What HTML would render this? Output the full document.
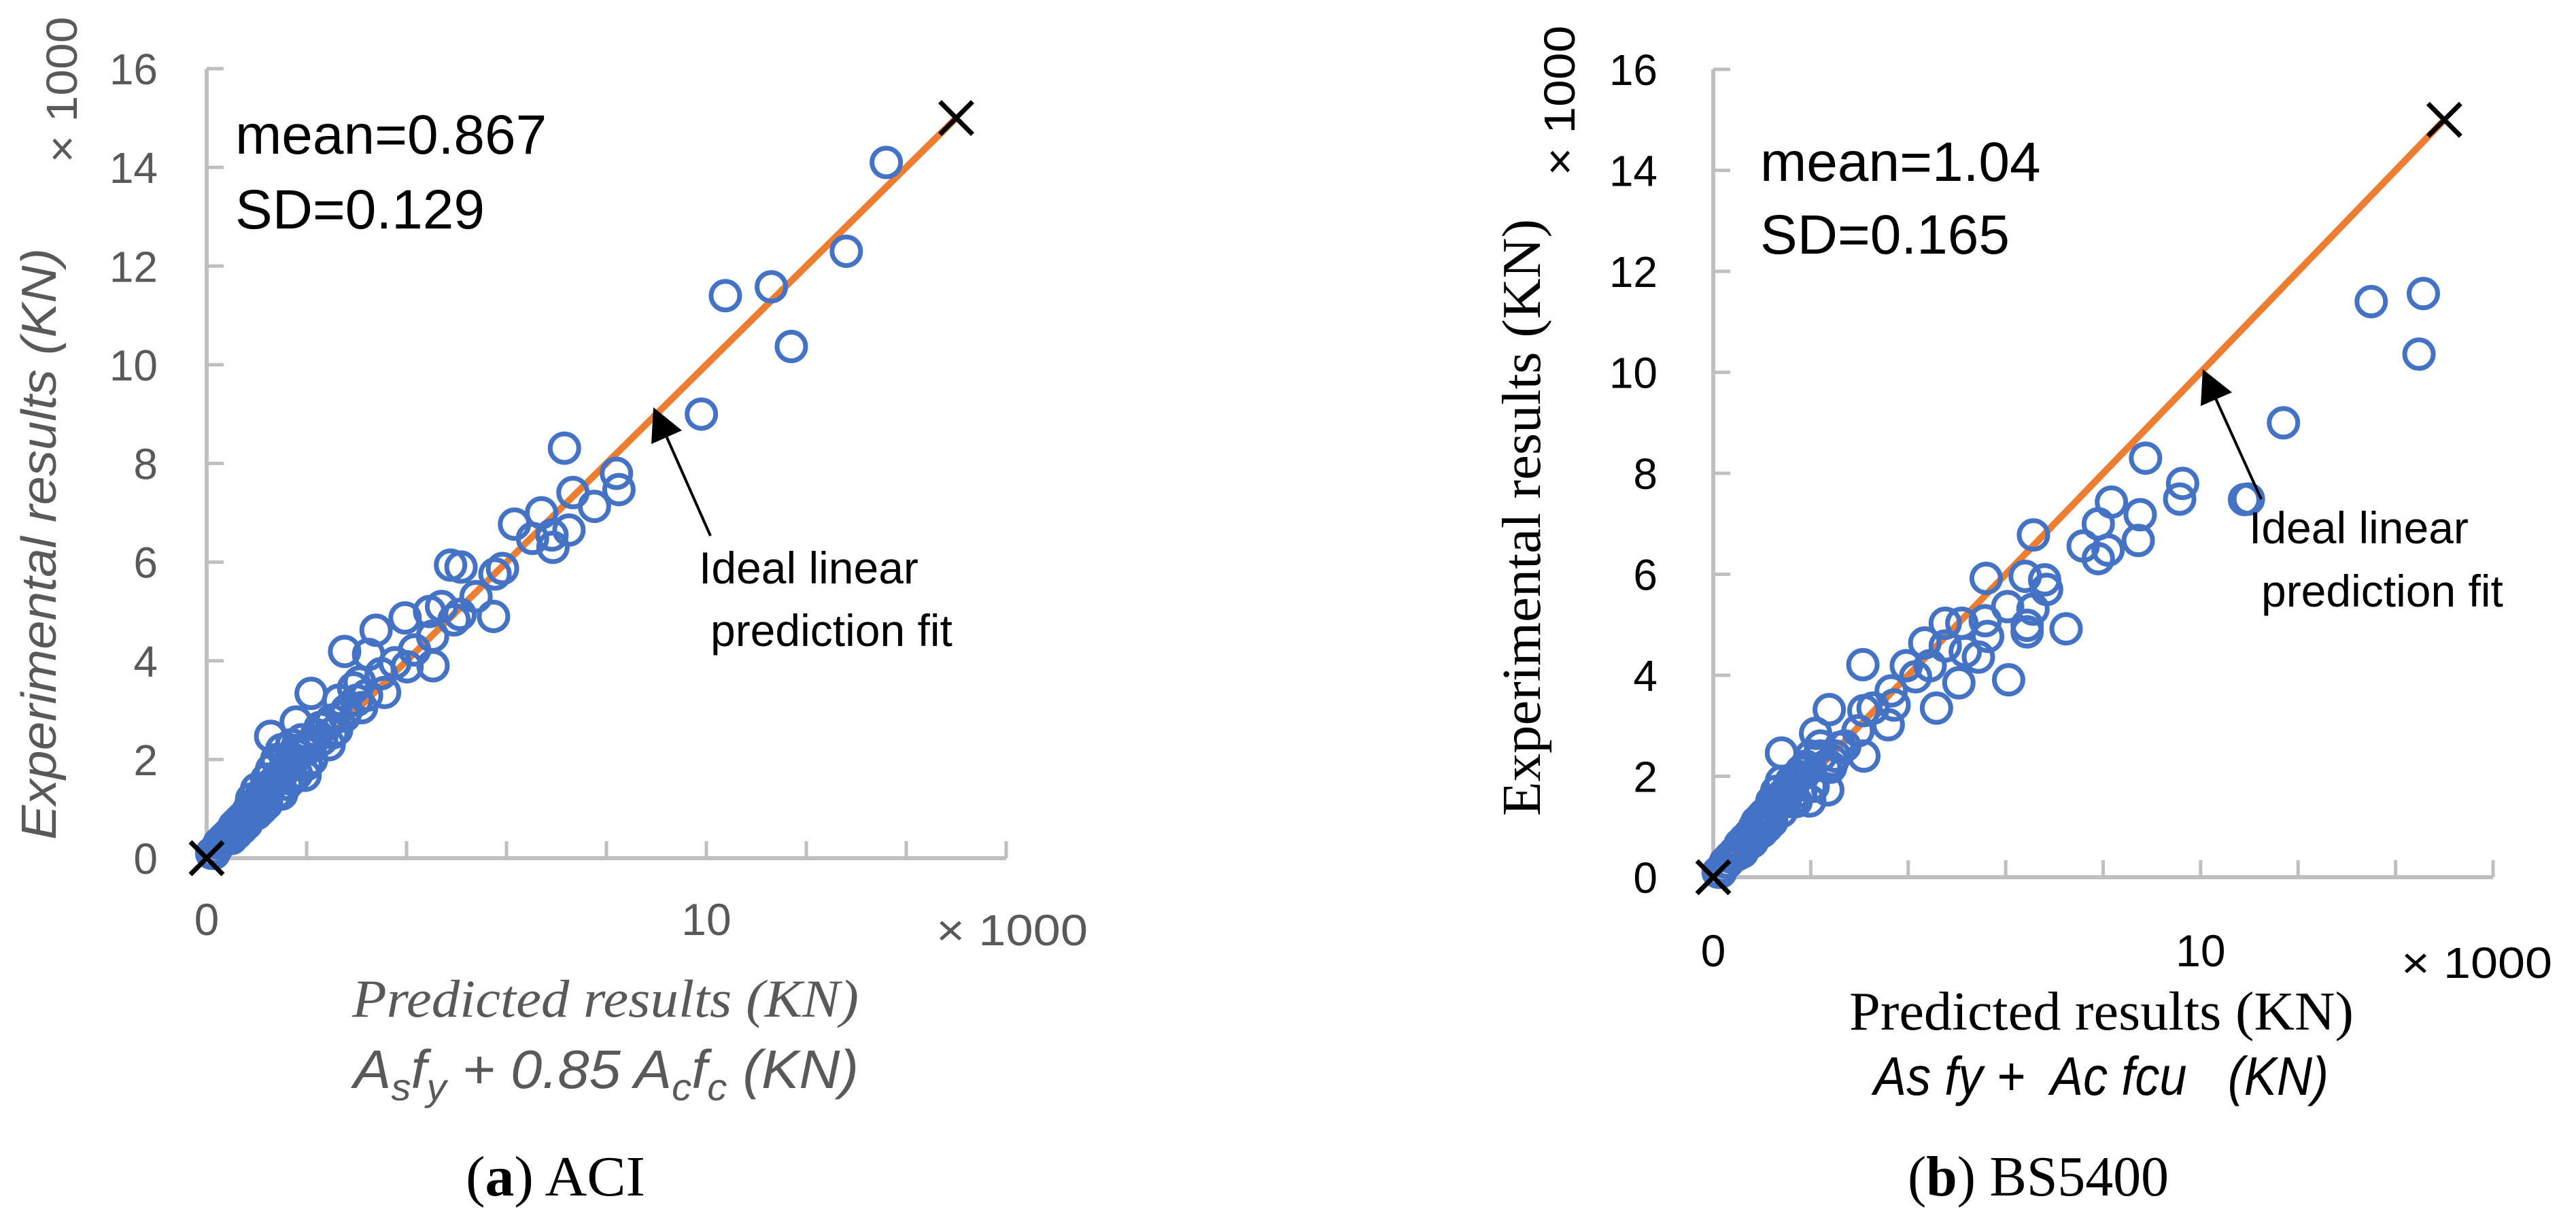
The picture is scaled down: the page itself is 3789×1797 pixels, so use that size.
<!DOCTYPE html>
<html><head><meta charset="utf-8">
<style>
html,body{margin:0;padding:0;background:#fff;}
svg{display:block;}
text{font-family:"Liberation Sans",sans-serif;}
.serif{font-family:"Liberation Serif",serif;}
</style></head>
<body>
<svg id="fig" width="3789" height="1797" viewBox="0 0 3789 1797" xmlns="http://www.w3.org/2000/svg">
<g id="chartA"></g>
<g id="chartB"></g>

<text x="346" y="226" font-size="82" fill="#000">mean=0.867</text>
<text x="346" y="336" font-size="82" fill="#000">SD=0.129</text>
<text x="1028" y="858" font-size="66" fill="#000">Ideal linear</text>
<text x="1045" y="950" font-size="66" fill="#000">prediction fit</text>
<g>
<line x1="1045" y1="788" x2="975" y2="630" stroke="#000" stroke-width="4"/>
<polygon points="961,599 958,653 1003,633" fill="#000"/>
</g>
<text transform="translate(82,800) rotate(-90)" text-anchor="middle" font-size="72" font-style="italic" fill="#595959" textLength="870" lengthAdjust="spacingAndGlyphs">Experimental results (KN)</text>
<text transform="translate(113,132) rotate(-90)" text-anchor="middle" font-size="64" fill="#595959" textLength="215" lengthAdjust="spacingAndGlyphs">× 1000</text>
<text x="1377" y="1390" font-size="64" fill="#595959" textLength="223" lengthAdjust="spacingAndGlyphs">× 1000</text>
<text class="serif" x="518" y="1495" font-size="78" font-style="italic" fill="#595959" textLength="745" lengthAdjust="spacingAndGlyphs">Predicted results (KN)</text>
<text x="520" y="1600" font-size="80" font-style="italic" fill="#595959" textLength="743" lengthAdjust="spacingAndGlyphs">A<tspan font-size="56" dy="18">s</tspan><tspan dy="-18">f</tspan><tspan font-size="56" dy="18">y</tspan><tspan dy="-18"> + 0.85 A</tspan><tspan font-size="56" dy="18">c</tspan><tspan dy="-18">f</tspan><tspan font-size="56" dy="18">c</tspan><tspan dy="-18">  (KN)</tspan></text>
<text class="serif" x="685" y="1758" font-size="84" fill="#000" textLength="264" lengthAdjust="spacingAndGlyphs">(<tspan font-weight="bold">a</tspan>) ACI</text>

<text x="2589" y="266" font-size="82" fill="#000">mean=1.04</text>
<text x="2589" y="373" font-size="82" fill="#000">SD=0.165</text>
<text x="3308" y="799" font-size="66" fill="#000">Ideal linear</text>
<text x="3326" y="892" font-size="66" fill="#000">prediction fit</text>
<g>
<line x1="3326" y1="734" x2="3254" y2="575" stroke="#000" stroke-width="4"/>
<polygon points="3240,543 3237,597 3283,577" fill="#000"/>
</g>
<text class="serif" transform="translate(2265,761) rotate(-90)" text-anchor="middle" font-size="80" fill="#000" textLength="878" lengthAdjust="spacingAndGlyphs">Experimental results (KN)</text>
<text transform="translate(2316,148) rotate(-90)" text-anchor="middle" font-size="64" fill="#000" textLength="221" lengthAdjust="spacingAndGlyphs">× 1000</text>
<text x="3532" y="1438" font-size="64" fill="#000" textLength="222" lengthAdjust="spacingAndGlyphs">× 1000</text>
<text class="serif" x="2720" y="1514" font-size="80" fill="#000" textLength="742" lengthAdjust="spacingAndGlyphs">Predicted results (KN)</text>
<text x="2756" y="1610" font-size="80" font-style="italic" fill="#000" textLength="669" lengthAdjust="spacingAndGlyphs" xml:space="preserve">As fy +  Ac fcu   (KN)</text>
<text class="serif" x="2806" y="1758" font-size="84" fill="#000" textLength="384" lengthAdjust="spacingAndGlyphs">(<tspan font-weight="bold">b</tspan>) BS5400</text>
</svg>

<script>
// ---- Data (values in ×1000 kN) ----
const yTicks = [0, 2, 4, 6, 8, 10, 12, 14, 16];
const xTickLabels = [0, 10];
const idealLine = [0, 15];

const aciPred = [13.6,12.8,11.3,10.38,11.7,9.9,7.16,8.2,8.25,7.33,7.76,6.7,6.16,7.25,6.52,6.91,6.93,5.92,5.77,4.88,5.09,5.39,5.74,5.07,4.7,4.46,3.97,4.95,4.52,4.16,3.39,2.76,3.24,3.77,4.01,4.53,3.56,3.49,3.06,3.1,2.76,2.09,2.52,2.09,1.97,1.6,1.28,1.79,2.27,2.64,2.94,
0.2,0.3,0.4,0.5,0.6,0.7,0.8,0.9,1.0,1.1,1.2,1.3,1.4,1.5,1.6,1.2,1.3,1.4,1.5,1.7,1.8,1.9,2.0,2.1,0.9,1.0,1.1,0.7,0.5,1.5,1.7,2.2,2.4,2.5,2.6,2.8,3.0,3.2,0.15,1.05,
0.1,0.25,0.35,0.45,0.55,0.65,0.75,0.85,0.95,1.05,1.15,1.25,1.35,1.45,1.55,1.65,1.75,1.85,0.6,0.8,1.0,1.2,1.4,1.6,1.8,2.0,2.3,2.45];
const aciExp = [14.1,12.3,11.58,11.4,10.37,9.0,8.31,7.8,7.47,7.41,7.13,7.0,6.77,6.65,6.48,6.55,6.3,5.87,5.76,5.94,5.9,5.3,4.9,4.94,5.1,5.0,4.87,4.83,4.5,4.22,4.62,4.19,4.13,3.96,3.88,3.9,3.36,3.74,3.57,3.05,2.88,3.34,2.54,2.31,1.68,1.5,2.47,2.76,2.65,3.2,3.45,
0.2,0.35,0.45,0.55,0.7,0.8,0.9,1.0,1.1,1.3,1.4,1.5,1.6,1.7,1.9,1.6,1.8,2.0,2.2,2.3,2.1,2.4,2.2,2.0,1.2,1.4,1.0,0.6,0.4,1.3,1.6,2.5,2.7,2.8,2.6,3.0,3.2,3.3,0.1,1.2,
0.1,0.3,0.4,0.5,0.65,0.75,0.85,1.0,1.05,1.2,1.25,1.4,1.55,1.65,1.8,1.85,2.0,2.1,0.5,0.7,0.9,1.1,1.3,1.5,1.7,1.9,2.4,2.3];

const bsPred = [14.57,13.5,14.48,11.7,10.98,10.9,8.87,9.63,9.57,8.76,8.72,8.17,7.9,7.59,8.1,7.9,6.57,5.6,6.4,6.8,6.84,6.56,6.04,7.24,6.44,6.44,5.58,5.63,5.1,4.76,5.17,5.44,4.76,4.34,4.45,3.96,5.04,6.06,4.58,4.15,3.07,3.71,3.65,3.28,3.59,3.09,2.97,3.09,2.38,2.1,2.6,2.41,2.35,1.98,1.4,1.67,
0.2,0.3,0.4,0.5,0.6,0.7,0.8,0.9,1.0,1.1,1.2,1.3,1.4,1.5,1.6,1.2,1.3,1.4,1.6,1.8,1.9,2.0,2.2,0.9,1.0,1.1,0.7,0.5,1.7,2.0,2.3,2.5,2.7,0.15,1.05,
0.1,0.25,0.35,0.45,0.55,0.65,0.75,0.85,0.95,1.05,1.15,1.25,1.35,1.45,1.55,1.65,1.75,1.85,0.6,0.8,1.0,1.2,1.4,1.6,1.8,2.05,2.2,2.45];
const bsExp = [11.56,11.4,10.36,9.0,7.49,7.48,8.3,7.8,7.49,7.18,6.67,7.43,7.0,6.56,6.48,6.31,6.78,5.92,5.96,5.89,5.7,5.31,5.36,4.92,4.99,4.86,5.08,4.77,5.03,5.03,4.47,4.36,4.58,4.64,4.19,4.19,3.85,3.91,3.35,3.97,4.21,3.41,3.69,3.35,3.02,3.3,2.9,2.4,3.32,2.85,2.57,2.18,1.73,1.51,2.46,1.96,
0.2,0.3,0.4,0.5,0.6,0.75,0.85,0.95,1.05,1.2,1.3,1.4,1.5,1.6,1.75,1.5,1.7,1.9,1.9,2.1,2.2,2.4,2.6,1.1,1.2,1.0,0.65,0.45,1.5,1.8,2.2,2.4,2.6,0.1,1.25,
0.1,0.3,0.4,0.5,0.65,0.75,0.85,1.0,1.05,1.2,1.25,1.4,1.55,1.65,1.8,1.85,2.0,2.1,0.5,0.7,0.9,1.1,1.3,1.5,1.7,1.8,2.4,2.3];

const NS = "http://www.w3.org/2000/svg";
function mk(tag, attrs, parent) {
  const e = document.createElementNS(NS, tag);
  for (const k in attrs) e.setAttribute(k, attrs[k]);
  parent.appendChild(e);
  return e;
}

function drawChart(g, cfg, px, ey, tickColor) {
  const sx = v => cfg.x0 + (v / 16) * (cfg.x16 - cfg.x0);
  const sy = v => cfg.y0 - (v / 16) * (cfg.y0 - cfg.y16);
  const ya = mk("line", {x1: sx(0), y1: sy(0), x2: sx(0), y2: sy(16), stroke: "#bfbfbf", "stroke-width": 6}, g);
  
  
  const xa = mk("line", {x1: sx(0)-3, y1: sy(0), x2: sx(16), y2: sy(0), stroke: "#bfbfbf", "stroke-width": 6}, g);
  
  
  yTicks.forEach(t => {
    const tk = mk("line", {x1: sx(0), y1: sy(t), x2: sx(0) + 25, y2: sy(t), stroke: "#bfbfbf", "stroke-width": 5}, g);
    
    
    const lb = mk("text", {x: cfg.yLabelRight, y: sy(t) + 23, "text-anchor": "end", "font-size": 64, fill: tickColor}, g);
    lb.textContent = t;
    
    
    const xt = mk("line", {x1: sx(t), y1: sy(0), x2: sx(t), y2: sy(0) - 25, stroke: "#bfbfbf", "stroke-width": 5}, g);
    
    
  });
  xTickLabels.forEach(t => {
    const lb = mk("text", {x: sx(t), y: cfg.xLabelY, "text-anchor": "middle", "font-size": 66, fill: tickColor}, g);
    lb.textContent = t;
    
    
  });
  const il = mk("line", {x1: sx(idealLine[0]), y1: sy(idealLine[0]), x2: sx(idealLine[1]), y2: sy(idealLine[1]), stroke: "#ed7d31", "stroke-width": 10}, g);
  
  
  px.forEach((v, i) => {
    const c = mk("circle", {cx: sx(v), cy: sy(ey[i]), r: 21, fill: "none", stroke: "#4472c4", "stroke-width": 7}, g);
    
    
  });
  idealLine.forEach(v => {
    const cx = sx(v), cy = sy(v), s = 24;
    const m = mk("path", {d: `M${cx-s},${cy-s}L${cx+s},${cy+s}M${cx-s},${cy+s}L${cx+s},${cy-s}`, stroke: "#000", "stroke-width": 7, fill: "none"}, g);
    
    
  });
}

drawChart(document.getElementById("chartA"),
  {x0: 304, x16: 1480, y0: 1262, y16: 101, yLabelRight: 232, xLabelY: 1375},
  aciPred, aciExp, "#595959");
drawChart(document.getElementById("chartB"),
  {x0: 2520, x16: 3667, y0: 1290, y16: 102, yLabelRight: 2438, xLabelY: 1421},
  bsPred, bsExp, "#000");
</script>
</body></html>
